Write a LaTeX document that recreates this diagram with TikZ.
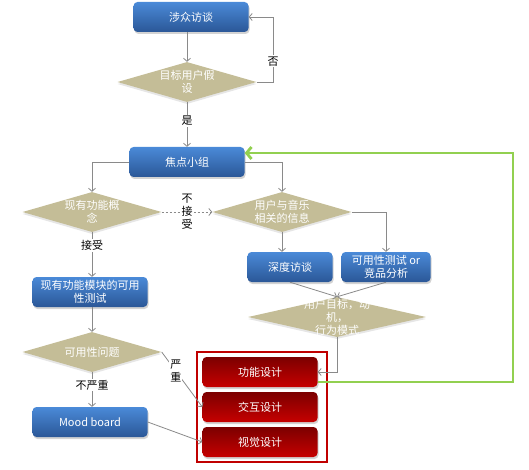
\documentclass[tikz,border=0pt]{standalone}
\usepackage{fontspec}
\setmainfont{Noto Sans CJK SC}
\usetikzlibrary{shapes.geometric,arrows.meta,shadows}
\definecolor{bluetop}{HTML}{4A8AD8}
\definecolor{bluebot}{HTML}{2B5797}
\definecolor{redtop}{HTML}{7C0000}
\definecolor{redbot}{HTML}{C60000}
\definecolor{diatan}{HTML}{C4BD97}
\definecolor{conngray}{HTML}{8A8A8A}
\definecolor{loopgreen}{HTML}{92D050}
\definecolor{framered}{HTML}{C00000}

\begin{document}
\begin{tikzpicture}[x=1pt, y=-1pt, align=center,
    font=\fontsize{11}{13}\selectfont,
    box/.style={rounded corners=4pt, top color=bluetop, bottom color=bluebot, text=white,
        minimum width=115pt, minimum height=30pt, inner sep=1pt,
        drop shadow={shadow xshift=1pt, shadow yshift=-2pt, opacity=0.35}},
    redbox/.style={box, top color=redtop, bottom color=redbot},
    dia/.style={diamond, fill=diatan, minimum width=139pt, minimum height=40pt, inner sep=0pt,
        drop shadow={shadow xshift=0pt, shadow yshift=-2pt, opacity=0.2}},
    diatext/.style={text=white},
    conn/.style={draw=conngray, line width=0.8pt, -{Straight Barb[length=3pt,width=7pt]}},
    lbl/.style={fill=white, inner sep=1pt, text=black}]
    \useasboundingbox (0,0) rectangle (529,470);

    % interviews and target users
    \node[box] (stake) at (191,17) {涉众访谈};
    \node[dia, label={[diatext]center:{目标用户假\\设}}] (hyp) at (187,82) {};
    \node[box] (focus) at (187,162) {焦点小组};

    % second level
    \node[dia, label={[diatext]center:{现有功能概\\念}}] (concept) at (92,212) {};
    \node[dia, label={[diatext]center:{用户与音乐\\相关的信息}}] (music) at (282,212) {};
    \node[box, minimum width=85pt] (deep) at (290,267) {深度访谈};
    \node[box, minimum width=89pt] (compete) at (386,267) {可用性测试 or\\竞品分析};
    \node[dia, minimum width=178pt, label={[diatext]center:{用户目标，动\\机，\\行为模式}}] (goal) at (337,317) {};

    % left column
    \node[box] (modtest) at (90,292) {现有功能模块的可用\\性测试};
    \node[dia, label={[diatext]center:可用性问题}] (issue) at (92,352) {};
    \node[box] (mood) at (90,422) {Mood board};

    % design boxes
    \node[draw=framered, line width=2pt, minimum width=130pt, minimum height=110pt] (frame) at (262,407) {};
    \node[redbox] (func) at (260,372) {功能设计};
    \node[redbox] (inter) at (260,407) {交互设计};
    \node[redbox] (visual) at (260,442) {视觉设计};

    \coordinate (noturn) at (273,17);
    \coordinate (gturn) at (513,382);

    \draw[conn] (hyp.north |- stake.south) -- (hyp.north);
    \draw[conn] (hyp.east) -| node[lbl, pos=0.66] {否} (noturn) -- (stake.east);
    \draw[conn] (hyp.south) -- node[lbl, pos=0.42] {是} (hyp.south |- focus.north);
    \draw[conn] (focus.west) -| (concept.north);
    \draw[conn] (focus.east) -| (music.north);
    \draw[conn, dash pattern=on 2pt off 2pt] (concept.east) -- node[lbl] {不\\接\\受} (music.west);
    \draw[conn] (music.east) -| (compete.north);
    \draw[conn] (music.south) -- (music.south |- deep.north);
    \draw[conn] (deep.south) -- (goal.north);
    \draw[conn] (compete.south) -- (goal.north);
    \draw[conn] (goal.south) |- (func.east);
    \draw[conn] (concept.south) -- node[lbl, pos=0.3] {接受} (concept.south |- modtest.north);
    \draw[conn] (issue.north |- modtest.south) -- (issue.north);
    \draw[conn] (issue.south) -- node[lbl, pos=0.37] {不严重} (issue.south |- mood.north);
    \draw[conn] (issue.east) -- node[lbl, pos=0.35] {严\\重} (inter.west);
    \draw[conn] (mood.east) -- (visual.west);

    % loop back to the focus group
    \draw[loopgreen, line width=2.8pt, -{Straight Barb[length=5pt,width=12pt]}]
        ([yshift=-10pt]func.east) -- (gturn) |- ([yshift=9pt]focus.east);
\end{tikzpicture}
\end{document}
